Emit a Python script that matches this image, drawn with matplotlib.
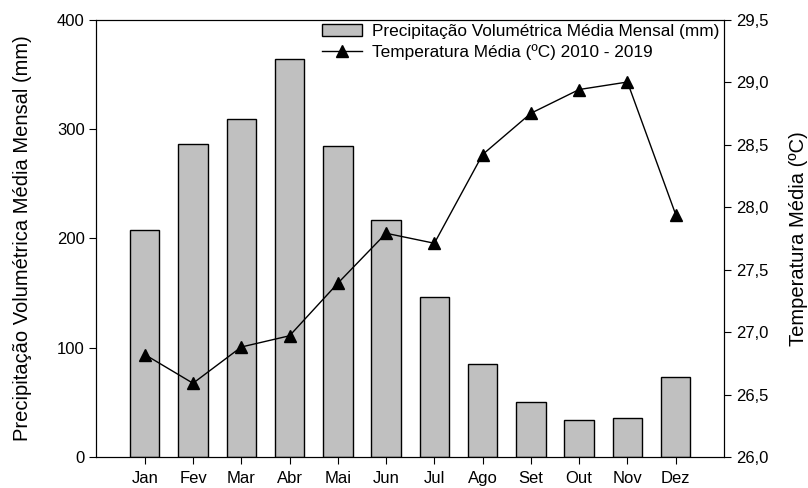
import matplotlib.pyplot as plt
from matplotlib.ticker import FuncFormatter

plt.rcParams['font.family'] = ['Liberation Sans', 'DejaVu Sans']

# dados
meses = ['Jan', 'Fev', 'Mar', 'Abr', 'Mai', 'Jun', 'Jul', 'Ago', 'Set', 'Out', 'Nov', 'Dez']
precipitacao = [208, 286, 309, 364, 284, 217, 146, 85, 50, 34, 36, 73]
temperatura = [26.82, 26.59, 26.88, 26.97, 27.39, 27.79, 27.71, 28.42, 28.75, 28.94, 29.0, 27.94]

x = list(range(len(meses)))

fig = plt.figure(figsize=(8.08, 4.88), dpi=100)
ax = fig.add_axes([0.1194, 0.0635, 0.7766, 0.8965])

barras = ax.bar(x, precipitacao, width=0.61, color='#c0c0c0', edgecolor='black', linewidth=1.0,
                label='Precipitação Volumétrica Média Mensal (mm)')
ax.set_xlim(-1, 12)
ax.set_ylim(0, 400)
ax.set_yticks([0, 100, 200, 300, 400])
ax.set_xticks(x)
ax.set_xticklabels(meses)
ax.set_ylabel('Precipitação Volumétrica Média Mensal (mm)', fontsize=14.5, labelpad=18)
ax.tick_params(axis='both', labelsize=12, direction='out', length=5)
ax.tick_params(axis='x', pad=5)

ax2 = ax.twinx()
linha, = ax2.plot(x, temperatura, color='black', linewidth=1.0, marker='^', markersize=8,
                  label='Temperatura Média (ºC) 2010 - 2019')
ax2.set_ylim(26.0, 29.5)
ax2.set_yticks([26.0, 26.5, 27.0, 27.5, 28.0, 28.5, 29.0, 29.5])
ax2.yaxis.set_major_formatter(FuncFormatter(lambda v, p: f'{v:.1f}'.replace('.', ',')))
ax2.set_ylabel('Temperatura Média (ºC)', fontsize=14.5, labelpad=15)
ax2.tick_params(axis='y', labelsize=12, direction='out', length=5)

ax.legend([barras, linha], [barras.get_label(), linha.get_label()], loc='upper right',
          frameon=False, fontsize=12.4, borderaxespad=0.0, borderpad=0.25,
          handlelength=2.3, handletextpad=0.6, labelspacing=0.3)

fig.savefig('out.png', dpi=100)
